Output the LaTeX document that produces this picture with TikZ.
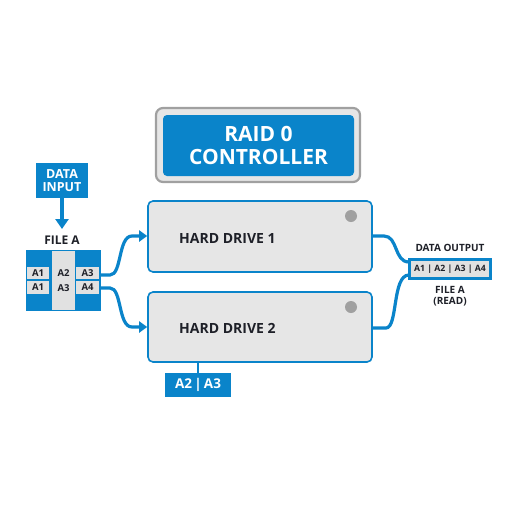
\documentclass[tikz,border=0pt]{standalone}
\usepackage{fontspec}
\setmainfont{Open Sans}
\usetikzlibrary{arrows.meta}
\definecolor{rblue}{RGB}{10,132,202}
\definecolor{rgrayfill}{RGB}{230,230,230}
\definecolor{rgrayline}{RGB}{160,160,160}
\definecolor{rdark}{RGB}{30,32,40}
\definecolor{rcell}{RGB}{225,225,225}
\begin{document}
\begin{tikzpicture}[x=1pt,y=-1pt,
  drive/.style={draw=rblue,line width=1.6pt,fill=rgrayfill,rounded corners=5pt},
  conn/.style={draw=rblue,line width=3.2pt},
  arr/.style={conn,-{Triangle[length=8pt,width=11pt]}},
  lbl/.style={font=\bfseries,text=rdark,inner sep=0pt},
  cell/.style={fill=rcell,inner sep=0pt,font=\bfseries\fontsize{9.5}{11}\selectfont,text=rdark}]
\useasboundingbox (0,0) rectangle (512,512);
\fill[white] (0,0) rectangle (512,512);
% controller
\node[draw=rgrayline,line width=2.2pt,fill=rgrayfill,rounded corners=7pt,minimum width=204pt,minimum height=74pt] (ctrlout) at (258,145) {};
\node[fill=rblue,rounded corners=4pt,minimum width=191pt,minimum height=61pt,align=center,text=white,font=\bfseries\fontsize{21}{23.5}\selectfont,inner sep=0pt] (ctrl) at (258.5,145.5) {RAID 0\\CONTROLLER};
% data input
\node[fill=rblue,minimum width=52pt,minimum height=35pt,align=center,text=white,font=\bfseries\fontsize{12.5}{13.5}\selectfont,inner sep=0pt] (din) at (62,180.5) {DATA\\INPUT};
\node[lbl,font=\bfseries\fontsize{12}{14}\selectfont] (filea) at (62,240.5) {FILE A};
\draw[arr,-{Triangle[length=10pt,width=13pt]}] (din.south) -- (62,229);
% file A block
\node[fill=rblue,minimum width=75pt,minimum height=61pt,inner sep=0pt] (fblk) at (63.5,280.5) {};
\node[fill=rcell,minimum width=23pt,minimum height=59pt,inner sep=0pt] (mid) at (63.5,280.5) {};
\node[cell,minimum width=22pt,minimum height=12.5pt] (c11) at (38,273) {A1};
\node[cell,minimum width=22pt,minimum height=12.5pt] (c21) at (38,287.5) {A1};
\node[cell,minimum width=23pt,minimum height=12.5pt] (c13) at (87.5,273) {A3};
\node[cell,minimum width=23pt,minimum height=12.5pt] (c23) at (87.5,287.5) {A4};
\node[cell,fill=none] (c12) at (63.5,273) {A2};
\node[cell,fill=none] (c22) at (63.5,288) {A3};
% drives
\node[drive,minimum width=224pt,minimum height=71pt] (hd1) at (260,236.5) {};
\node[lbl,font=\bfseries\fontsize{14}{16}\selectfont,anchor=west] (hd1t) at (179,238) {HARD DRIVE 1};
\fill[rgrayline] (351,216) circle (6pt);
\node[drive,minimum width=224pt,minimum height=70pt] (hd2) at (260,327) {};
\node[lbl,font=\bfseries\fontsize{14}{16}\selectfont,anchor=west] (hd2t) at (179,328) {HARD DRIVE 2};
\fill[rgrayline] (351,307) circle (6pt);
% A2|A3 box
\node[fill=rblue,minimum width=66pt,minimum height=24pt,inner sep=0pt,text=white,font=\bfseries\fontsize{13.5}{15}\selectfont] (a23) at (198,385) {A2\,|\,A3};
\draw[rblue,line width=1.8pt] (hd2.south -| a23.north) -- (a23.north);
% output
\node[draw=rblue,line width=2.8pt,fill=rcell,minimum width=81pt,minimum height=19pt,inner sep=0pt,font=\bfseries\fontsize{8.7}{10}\selectfont,text=rdark] (dout) at (450,269) {A1 | A2 | A3 | A4};
\node[lbl,font=\bfseries\fontsize{10}{11.5}\selectfont] (douttxt) at (450,248) {DATA OUTPUT};
\node[lbl,font=\bfseries\fontsize{10}{11.5}\selectfont,align=center] (fread) at (450,296) {FILE A\\(READ)};
% connectors
\draw[arr] (c13.east |- 0,275) -- (110,275) .. controls (122,275) and (118,236) .. (132,236) -- (hd1.west |- 0,236);
\draw[arr] (c23.east |- 0,288) -- (110,288) .. controls (122,288) and (118,327) .. (132,327) -- (hd2.west |- 0,327);
\draw[conn] (hd1.east |- 0,236) -- (384,236) .. controls (398,236) and (394,262) .. (409,262);
\draw[conn] (hd2.east |- 0,328) -- (386,328) .. controls (398,328) and (392,275) .. (409,275);
\end{tikzpicture}
\end{document}
